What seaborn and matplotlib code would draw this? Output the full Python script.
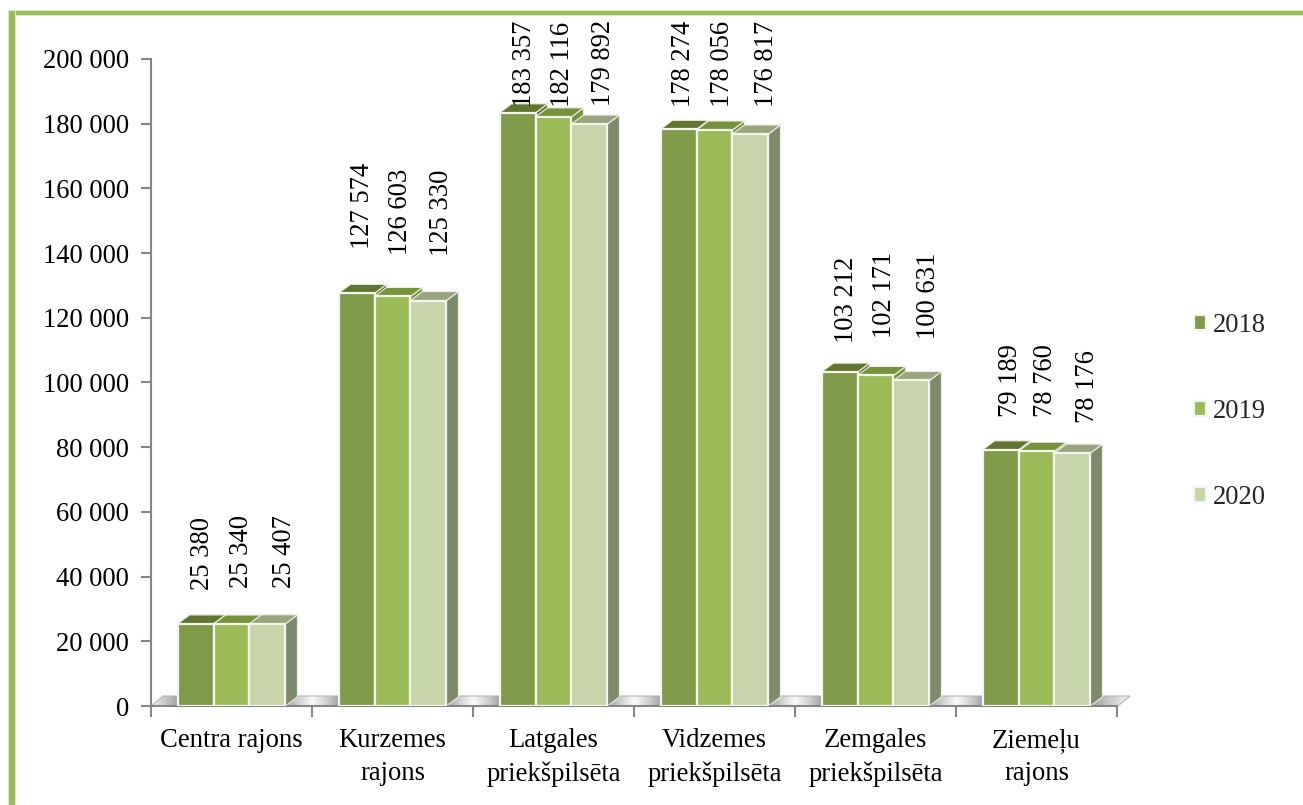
import numpy as np
import pandas as pd
import matplotlib
matplotlib.use('Agg')
import matplotlib.pyplot as plt
import seaborn as sns
from matplotlib.patches import Polygon, Rectangle
from matplotlib.transforms import IdentityTransform

# ── Data ──────────────────────────────────────────────────────
districts = ['Centra rajons', 'Kurzemes\nrajons', 'Latgales\npriekšpilsēta',
             'Vidzemes\npriekšpilsēta', 'Zemgales\npriekšpilsēta', 'Ziemeļu\nrajons']
years = ['2018', '2019', '2020']
v2018 = [25380, 127574, 183357, 178274, 103212, 79189]
v2019 = [25340, 126603, 182116, 178056, 102171, 78760]
v2020 = [25407, 125330, 179892, 176817, 100631, 78176]
y_ticks = [0, 20000, 40000, 60000, 80000, 100000, 120000, 140000, 160000, 180000, 200000]
y_labels = ['0', '20 000', '40 000', '60 000', '80 000', '100 000',
            '120 000', '140 000', '160 000', '180 000', '200 000']

# ── Style ─────────────────────────────────────────────────────
W, H = 1303, 805
front = ['#7F9A48', '#9BBB59', '#C7D5AA']
top_c = ['#5F7530', '#76923C', '#98A57F']
side_c = ['#5F7530', '#76923C', '#7E8A6C']
border = '#9BBB59'
axis_c = '#868686'
FS = 19.2
DX, DY = 12, 9   # depth of the 3d look, px

# label placement in px: sideways shift from bar centre, bottom of text above bar top
label_dx = [[7, 10, 17], [6, 8, 13], [7, 9, 14], [5, 8, 16], [7, 9, 17], [10, 9, 15]]
label_dy = [[34, 36, 36], [44, 41, 45], [6, 10, 18], [22, 23, 27], [29, 37, 41], [33, 34, 30]]

sns.set_theme(style='white')
plt.rcParams['font.family'] = ['Liberation Serif', 'DejaVu Serif']

fig = plt.figure(figsize=(W / 100, H / 100), dpi=100, facecolor='white')

# background layer in image pixels (frame, floor)
bg = fig.add_axes([0, 0, 1, 1], zorder=0)
bg.axis('off')

ax = fig.add_axes([151 / W, 1 - 706 / H, 966 / W, 647 / H], zorder=1)
ax.patch.set_alpha(0)

df = pd.DataFrame({
    'district': districts * 3,
    'year': [y for y in years for _ in districts],
    'value': v2018 + v2019 + v2020,
})
sns.barplot(data=df, x='district', y='value', hue='year', order=districts, hue_order=years,
            palette=front, width=0.67, gap=0, saturation=1, errorbar=None,
            edgecolor='#F4F6EE', linewidth=1.6, ax=ax, zorder=3)

ax.set_xlim(-0.5, 5.5)
ax.set_ylim(0, 200000)
ax.set_xlabel(''); ax.set_ylabel('')
ax.set_yticks(y_ticks)
ax.set_yticklabels(y_labels, fontsize=FS, color='black')
ax.set_xticks(np.arange(-0.5, 6, 1), minor=False)
ax.set_xticklabels([])
ax.set_xticks(np.arange(6), minor=True)
ax.set_xticklabels(districts, minor=True, fontsize=FS, color='black', linespacing=1.42)
ax.tick_params(axis='y', length=7, width=1.5, color=axis_c, left=True, pad=9)
ax.tick_params(axis='x', which='major', length=8, width=1.5, color=axis_c, bottom=True)
ax.tick_params(axis='x', which='minor', length=0, pad=16)
for s in ['top', 'right']:
    ax.spines[s].set_visible(False)
for s in ['left', 'bottom']:
    ax.spines[s].set_color(axis_c)
    ax.spines[s].set_linewidth(1.5)

fig.canvas.draw()

# ── 3d faces + labels, taken from the drawn bars ──────────────
ident = IdentityTransform()
for i, bars in enumerate(ax.containers):
    for j, bar in enumerate(bars):
        (x0, y0), (x1, y1) = ax.transData.transform(
            [(bar.get_x(), 0), (bar.get_x() + bar.get_width(), bar.get_height())])
        ax.add_patch(Polygon([(x1, y0), (x1 + DX, y0 + DY), (x1 + DX, y1 + DY), (x1, y1)],
                             transform=ident, facecolor=side_c[i], edgecolor='#EDEFE6',
                             linewidth=0.8, zorder=2, clip_on=False))
        ax.add_patch(Polygon([(x0, y1), (x0 + DX, y1 + DY), (x1 + DX, y1 + DY), (x1, y1)],
                             transform=ident, facecolor=top_c[i], edgecolor='#EDEFE6',
                             linewidth=0.8, zorder=2, clip_on=False))
        ax.annotate(f'{int(bar.get_height()):,}'.replace(',', ' '),
                    xy=(bar.get_x() + bar.get_width() / 2, bar.get_height()),
                    xytext=(label_dx[j][i], label_dy[j][i]), textcoords='offset pixels',
                    rotation=90, ha='center', va='bottom', fontsize=FS, color='black',
                    annotation_clip=False, zorder=5)

# ── Floor pieces with grey gradient ───────────────────────────
floor_y0, floor_y1 = 706, 696
for k in range(7):
    a = 151 if k == 0 else 285 + 161 * (k - 1)
    b = 1130 if k == 6 else 179 + 161 * k
    grad = 0.60 + 0.38 * (1 - np.abs(np.linspace(-1, 1, 64))) ** 0.8
    if k == 0:
        grad = np.linspace(0.96, 0.62, 64)
    if k == 6:
        grad = np.linspace(0.62, 0.96, 64)
    im = bg.imshow(grad[None, :], cmap='gray', vmin=0, vmax=1, aspect='auto',
                   extent=(a, b, floor_y0, floor_y1), zorder=1)
    b_low = b - DX if k == 6 else b
    clip = Polygon([(a, floor_y0), (a + DX, floor_y1), (b, floor_y1), (b_low, floor_y0)],
                   transform=bg.transData, facecolor='none', edgecolor='#B5B5B5', linewidth=0.8, zorder=1.5)
    bg.add_patch(clip)
    im.set_clip_path(clip)

# ── Frame ─────────────────────────────────────────────────────
bg.add_patch(Rectangle((8, 10), W - 8, 5, facecolor=border, edgecolor='#DDE8C6', linewidth=0.8))
bg.add_patch(Rectangle((8, 10), 7, H - 10, facecolor=border, edgecolor='#DDE8C6', linewidth=0.8))
bg.set_xlim(0, W); bg.set_ylim(H, 0)

# ── Legend ────────────────────────────────────────────────────
sns.move_legend(ax, 'center left', bbox_to_anchor=(1194 / W, 1 - 411.5 / H),
                bbox_transform=fig.transFigure, frameon=False, title=None,
                fontsize=FS, labelspacing=2.29, handlelength=0.45, handleheight=0.45,
                handletextpad=0.27, borderpad=0, borderaxespad=0)

fig.savefig('out.png', dpi=100, facecolor='white')
plt.close(fig)
